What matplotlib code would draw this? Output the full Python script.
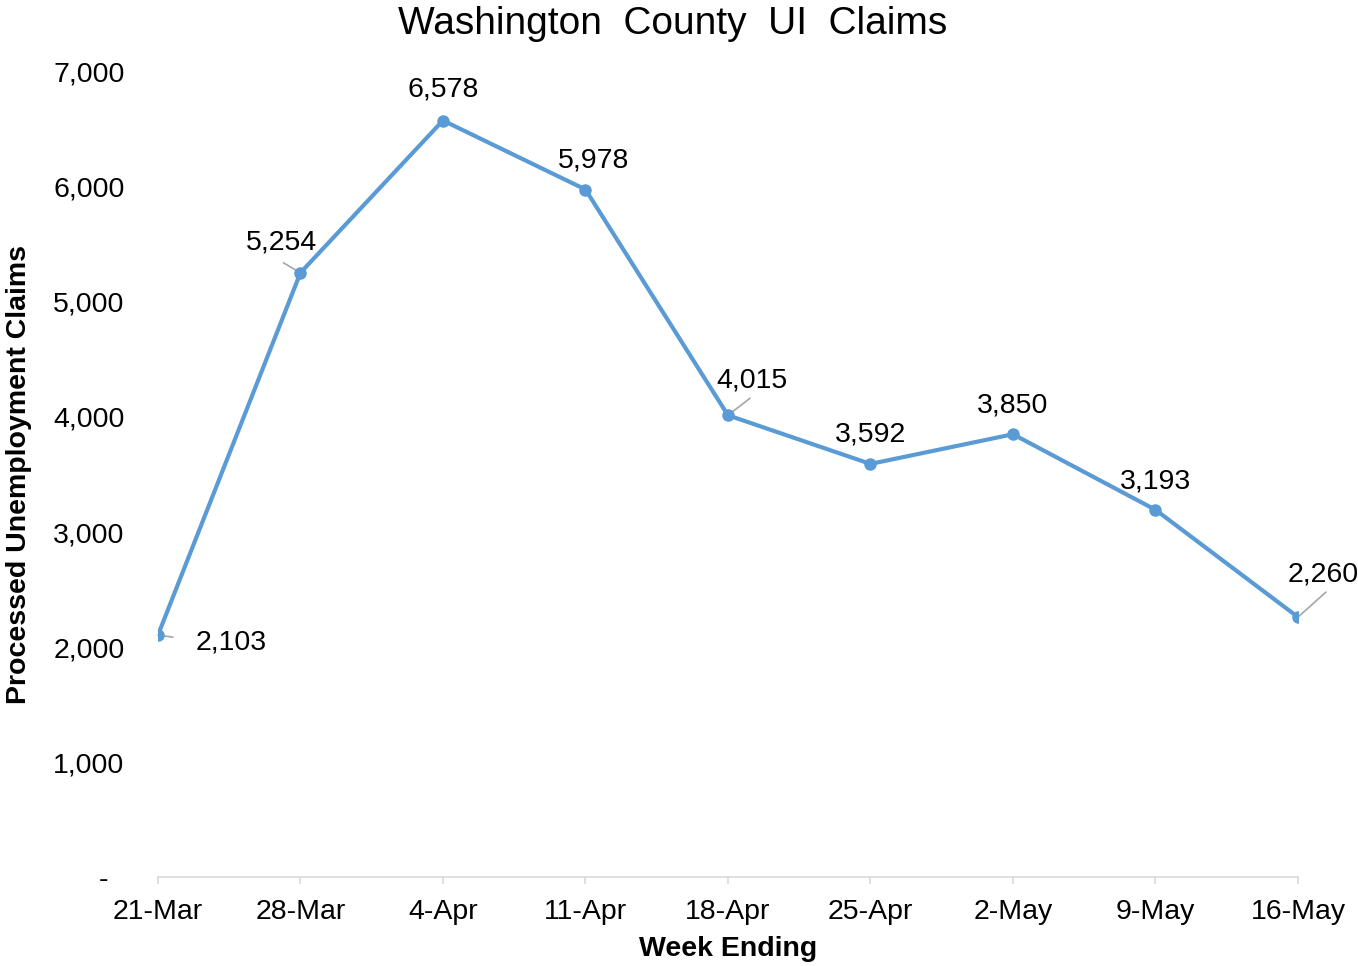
import matplotlib.pyplot as plt
from matplotlib.ticker import FuncFormatter

plt.rcParams['font.family'] = ['Liberation Sans', 'DejaVu Sans']

weeks = ["21-Mar", "28-Mar", "4-Apr", "11-Apr", "18-Apr", "25-Apr", "2-May", "9-May", "16-May"]
claims = [2103, 5254, 6578, 5978, 4015, 3592, 3850, 3193, 2260]

# label offsets in pixels (dx, dy) and optional leader line start
label_offsets = [(73, -7), (-19, 30), (0, 31), (8, 29), (24, 35), (0, 29), (0, 29), (0, 28), (25, 43)]
leaders = {0: (15, -2), 1: (-17, 10), 4: (22, 17), 8: (28, 25)}

fig = plt.figure(figsize=(13.58, 9.66), dpi=100)
ax = fig.add_axes([0.1163, 0.0921, 0.8395, 0.8334])

x = list(range(len(weeks)))
ax.plot(x, claims, color='#5b9bd5', linewidth=3, marker='o', markersize=8, zorder=3)

for i, v in enumerate(claims):
    if i in leaders:
        ax.annotate('', xy=(i, v), xytext=leaders[i], textcoords='offset pixels',
                    arrowprops=dict(arrowstyle='-', color='#a6a6a6', lw=1.2, shrinkA=0, shrinkB=0),
                    annotation_clip=False, zorder=2)
    dx, dy = label_offsets[i]
    ax.annotate(f'{v:,}', xy=(i, v), xytext=(dx, dy), textcoords='offset pixels',
                ha='center', va='center', fontsize=20.5, annotation_clip=False)

ax.set_xlim(0, len(weeks) - 1)
ax.set_ylim(0, 7000)
ax.set_xticks(x)
ax.set_xticklabels(weeks, fontsize=20.5)
ax.set_yticks(range(0, 7001, 1000))
ax.yaxis.set_major_formatter(FuncFormatter(lambda v, p: '-  ' if v == 0 else f'{int(v):,}'))
ax.tick_params(axis='y', length=0, pad=24, labelsize=20.5)
ax.tick_params(axis='x', length=5, width=1.2, color='#d9d9d9', pad=11)

for s in ['top', 'right', 'left']:
    ax.spines[s].set_visible(False)
ax.spines['bottom'].set_color('#d9d9d9')
ax.spines['bottom'].set_linewidth(1.2)

ax.set_xlabel('Week Ending', fontsize=20.5, fontweight='bold', labelpad=8)
ax.set_ylabel('Processed Unemployment Claims', fontsize=20.5, fontweight='bold', labelpad=15)
fig.text(0.495, 0.975, 'Washington  County  UI  Claims', ha='center', va='center', fontsize=28)

fig.savefig('out.png', dpi=100)
